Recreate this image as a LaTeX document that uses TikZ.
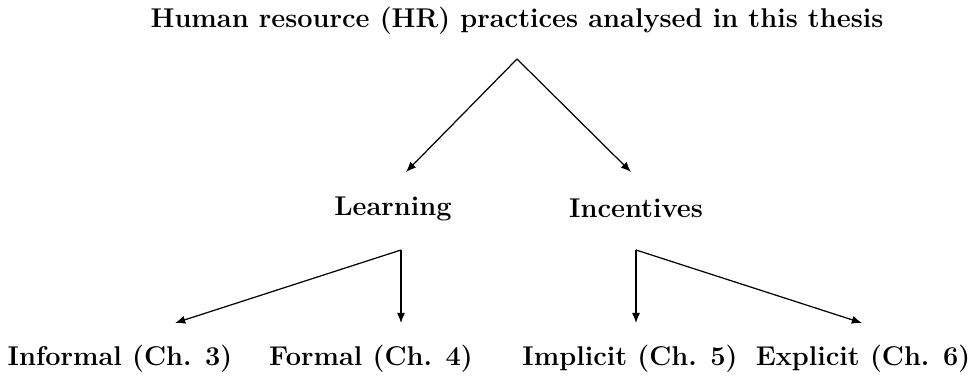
\documentclass[tikz,border=0pt]{standalone}
\usetikzlibrary{arrows.meta}
\begin{document}
\begin{tikzpicture}[x=0.49pt,y=-0.49pt,
  lbl/.style={font=\fontsize{13.3}{16}\selectfont\bfseries, inner sep=0pt, anchor=base},
  arr/.style={line width=0.6pt, -{Latex[length=5pt,width=4pt]}}]
\useasboundingbox (0,0) rectangle (975,376);
\node[lbl] (title) at (517,28) {Human resource (HR) practices analysed in this thesis};
\coordinate (apex) at (517,59);
\coordinate (aL) at (406,172);
\coordinate (aI) at (631,172);
\node[lbl] (learn) at (393,216) {Learning};
\node[lbl] (incent) at (636,218) {Incentives};
\coordinate (bL) at (401,250);
\coordinate (bI) at (636,250);
\coordinate (e1) at (175,323);
\coordinate (e2) at (401,323);
\coordinate (e3) at (636,323);
\coordinate (e4) at (862,323);
\node[lbl] (inf) at (120,366) {Informal (Ch. 3)};
\node[lbl] (for) at (371,366) {Formal (Ch. 4)};
\node[lbl] (imp) at (630,366) {Implicit (Ch. 5)};
\node[lbl] (exp) at (863,366) {Explicit (Ch. 6)};
\draw[arr] (apex) -- (aL);
\draw[arr] (apex) -- (aI);
\draw[arr] (bL) -- (e1);
\draw[arr] (bL) -- (e2);
\draw[arr] (bI) -- (e3);
\draw[arr] (bI) -- (e4);
\end{tikzpicture}
\end{document}
